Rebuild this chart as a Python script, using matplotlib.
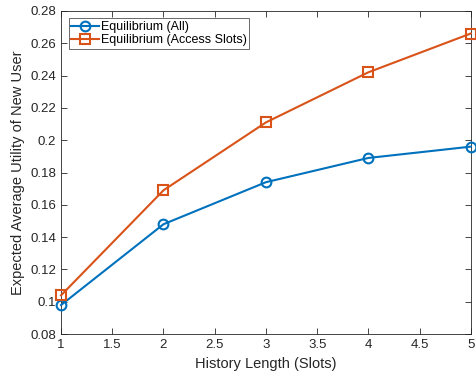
import matplotlib.pyplot as plt

history_len = [1, 2, 3, 4, 5]
util_all = [0.098, 0.148, 0.174, 0.189, 0.196]
util_access = [0.104, 0.169, 0.211, 0.242, 0.266]

plt.rcParams['font.family'] = ['Liberation Sans', 'DejaVu Sans']

fig = plt.figure(figsize=(4.77, 3.75), dpi=100)
ax = fig.add_axes([0.128, 0.109, 0.859, 0.862])
ax.plot(history_len, util_all, '-o', color='#0072BD', linewidth=1.5,
        markersize=7, markerfacecolor='none', markeredgewidth=1.5,
        label='Equilibrium (All)', clip_on=False, zorder=3)
ax.plot(history_len, util_access, '-s', color='#D95319', linewidth=1.5,
        markersize=6.5, markerfacecolor='none', markeredgewidth=1.5,
        label='Equilibrium (Access Slots)', clip_on=False, zorder=3)

ax.set_xlim(1, 5)
ax.set_ylim(0.08, 0.28)
ax.set_xticks([1, 1.5, 2, 2.5, 3, 3.5, 4, 4.5, 5])
ax.set_xticklabels(['1', '1.5', '2', '2.5', '3', '3.5', '4', '4.5', '5'])
ax.set_yticks([0.08, 0.1, 0.12, 0.14, 0.16, 0.18, 0.2, 0.22, 0.24, 0.26, 0.28])
ax.set_yticklabels(['0.08', '0.1', '0.12', '0.14', '0.16', '0.18', '0.2',
                    '0.22', '0.24', '0.26', '0.28'])
ax.tick_params(direction='in', top=True, right=True, labelsize=9.5,
               colors='#262626', length=4, width=0.6)
for s in ax.spines.values():
    s.set_color('#262626')
    s.set_linewidth(0.6)
ax.set_xlabel('History Length (Slots)', fontsize=10.5, color='#262626')
ax.set_ylabel('Expected Average Utility of New User', fontsize=10.5, color='#262626')
leg = ax.legend(loc='upper left', fontsize=9, frameon=True, fancybox=False,
                edgecolor='#262626', borderpad=0.2, labelspacing=0.1,
                handlelength=2.2, handletextpad=0.2, borderaxespad=0.6)
leg.get_frame().set_linewidth(0.6)

fig.savefig('out.png', dpi=100)
